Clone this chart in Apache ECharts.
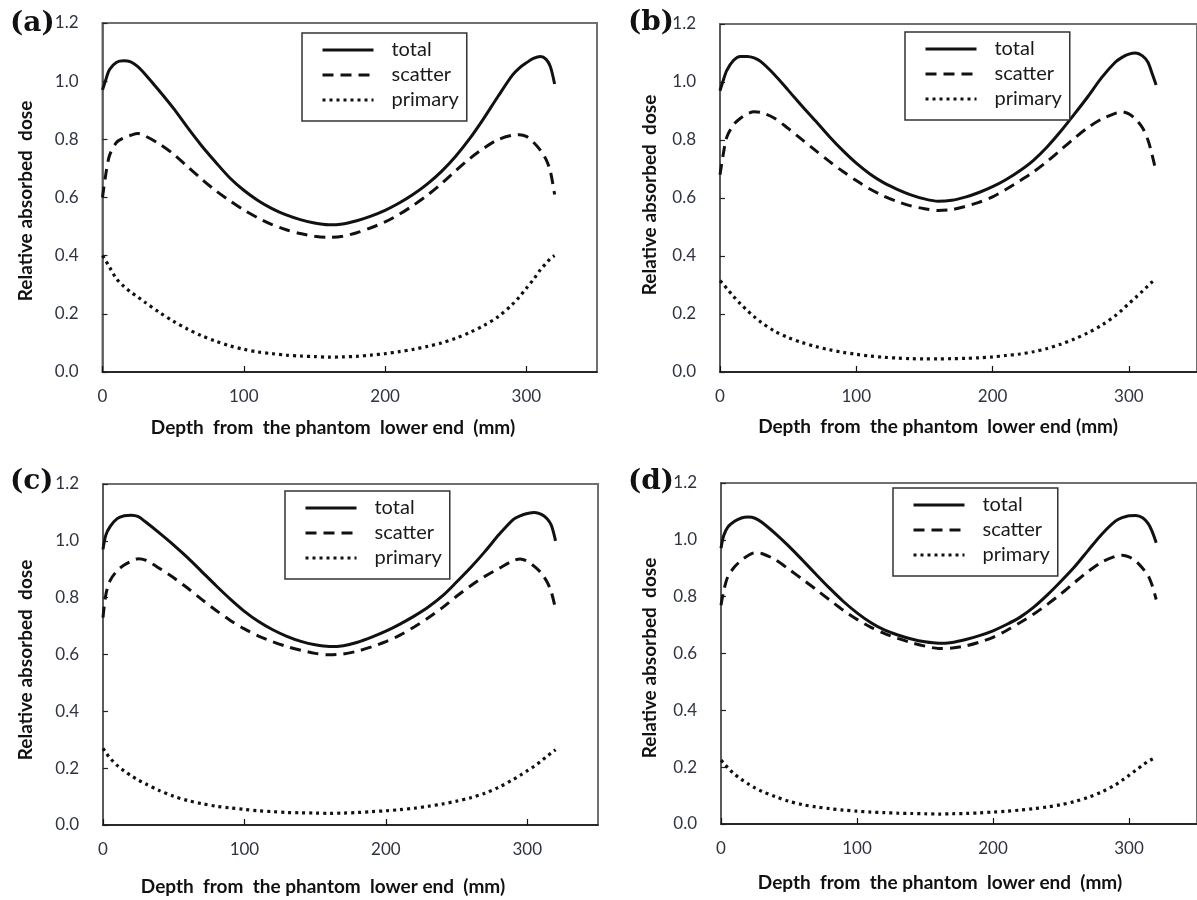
<!DOCTYPE html>
<html>
<head>
<meta charset="utf-8">
<script src="https://cdn.jsdelivr.net/npm/echarts@6/dist/echarts.min.js"></script>
<style>
html,body{margin:0;padding:0;background:#fff;}
#main{width:1197px;height:900px;}
</style>
</head>
<body>
<div id="main"></div>
<script>
// depth (mm) sample positions shared by every curve
var depth = [0,2,5,10,15,20,25,30,40,50,60,70,80,90,100,110,120,130,140,150,160,170,180,190,200,210,220,230,240,250,260,270,280,290,295,300,305,310,314,317,320];

// (a)
var totalA   = [0.97,1.00,1.04,1.065,1.07,1.066,1.05,1.025,0.968,0.908,0.842,0.779,0.722,0.668,0.625,0.59,0.562,0.54,0.524,0.512,0.506,0.509,0.52,0.536,0.556,0.581,0.611,0.647,0.69,0.742,0.803,0.873,0.948,1.02,1.045,1.063,1.078,1.085,1.075,1.05,0.99];
var scatterA = [0.60,0.67,0.745,0.79,0.805,0.814,0.82,0.812,0.785,0.75,0.707,0.664,0.624,0.589,0.557,0.53,0.507,0.489,0.476,0.467,0.463,0.467,0.479,0.496,0.516,0.542,0.573,0.608,0.648,0.692,0.734,0.77,0.799,0.814,0.816,0.81,0.79,0.762,0.73,0.69,0.61];
var primaryA = [0.40,0.385,0.36,0.32,0.295,0.275,0.258,0.24,0.206,0.175,0.148,0.125,0.106,0.09,0.078,0.069,0.063,0.058,0.055,0.053,0.051,0.052,0.054,0.058,0.063,0.07,0.078,0.088,0.1,0.116,0.136,0.16,0.19,0.232,0.258,0.288,0.318,0.352,0.374,0.39,0.40];

// (b)
var totalB   = [0.97,1.00,1.04,1.075,1.088,1.088,1.083,1.07,1.025,0.972,0.918,0.866,0.813,0.764,0.72,0.683,0.653,0.63,0.611,0.597,0.589,0.592,0.603,0.619,0.639,0.664,0.694,0.73,0.776,0.83,0.889,0.95,1.015,1.068,1.085,1.096,1.10,1.09,1.068,1.03,0.99];
var scatterB = [0.68,0.74,0.81,0.853,0.875,0.89,0.897,0.895,0.875,0.84,0.802,0.764,0.727,0.692,0.66,0.631,0.607,0.588,0.573,0.563,0.557,0.56,0.571,0.585,0.604,0.63,0.659,0.69,0.726,0.766,0.806,0.843,0.872,0.892,0.897,0.89,0.872,0.842,0.80,0.75,0.69];
var primaryB = [0.315,0.305,0.288,0.26,0.235,0.212,0.191,0.172,0.141,0.119,0.102,0.088,0.077,0.068,0.061,0.055,0.051,0.048,0.046,0.045,0.045,0.046,0.047,0.049,0.052,0.057,0.062,0.07,0.081,0.096,0.114,0.135,0.161,0.194,0.214,0.236,0.257,0.279,0.297,0.31,0.32];

// (c)
var totalC   = [0.97,1.02,1.05,1.078,1.088,1.09,1.085,1.067,1.027,0.985,0.94,0.891,0.842,0.795,0.752,0.716,0.687,0.664,0.646,0.634,0.628,0.631,0.643,0.661,0.682,0.707,0.735,0.767,0.806,0.855,0.906,0.962,1.022,1.075,1.088,1.096,1.10,1.093,1.078,1.055,1.00];
var scatterC = [0.73,0.81,0.86,0.895,0.915,0.928,0.937,0.932,0.903,0.87,0.833,0.793,0.755,0.72,0.69,0.665,0.645,0.628,0.615,0.604,0.599,0.602,0.612,0.627,0.645,0.668,0.697,0.729,0.765,0.805,0.842,0.875,0.903,0.93,0.936,0.928,0.91,0.886,0.855,0.82,0.76];
var primaryC = [0.27,0.255,0.235,0.21,0.19,0.173,0.158,0.145,0.121,0.101,0.086,0.075,0.066,0.06,0.055,0.05,0.047,0.044,0.043,0.042,0.041,0.042,0.044,0.047,0.05,0.054,0.059,0.066,0.074,0.084,0.096,0.112,0.133,0.16,0.175,0.191,0.207,0.226,0.242,0.254,0.265];

// (d)
var totalD   = [0.97,1.015,1.045,1.065,1.077,1.08,1.076,1.062,1.022,0.977,0.928,0.878,0.829,0.783,0.743,0.709,0.683,0.665,0.651,0.641,0.636,0.639,0.649,0.663,0.68,0.702,0.728,0.763,0.806,0.854,0.905,0.963,1.02,1.066,1.078,1.085,1.086,1.078,1.058,1.03,0.99];
var scatterD = [0.77,0.82,0.87,0.905,0.928,0.945,0.955,0.952,0.93,0.896,0.861,0.825,0.788,0.752,0.72,0.693,0.671,0.653,0.638,0.626,0.618,0.619,0.627,0.64,0.657,0.681,0.709,0.739,0.773,0.81,0.85,0.889,0.922,0.942,0.946,0.94,0.925,0.90,0.875,0.84,0.79];
var primaryD = [0.225,0.215,0.198,0.175,0.157,0.141,0.127,0.115,0.096,0.08,0.068,0.06,0.054,0.049,0.045,0.042,0.04,0.038,0.037,0.036,0.035,0.036,0.037,0.039,0.042,0.045,0.049,0.054,0.06,0.068,0.079,0.094,0.113,0.138,0.154,0.171,0.189,0.207,0.22,0.228,0.235];

var panelTags = ['(a)','(b)','(c)','(d)'];
var seriesNames = ['total','scatter','primary'];
var xTitle = ['Depth  from  the phantom  lower end  (mm)','Depth  from  the phantom  lower end (mm)','Depth  from  the phantom  lower end  (mm)','Depth  from  the phantom  lower end  (mm)'];
var yTitle = 'Relative absorbed  dose';

var panelData = [
    [totalA, scatterA, primaryA],
    [totalB, scatterB, primaryB],
    [totalC, scatterC, primaryC],
    [totalD, scatterD, primaryD]
];

// layout of each panel (pixels)
var grids = [
    {left:102.5, top:23,  width:494.5, height:349},
    {left:720,   top:24,  width:481,   height:348},
    {left:103,   top:484, width:495,   height:341},
    {left:721,   top:483, width:476,   height:341}
];
var legendPos = [[302,33],[905,32],[285,491],[893,488]];
var tagPos = [[10,28],[628,27],[10,486],[628,486]];
var xTitlePos = [[333,428],[938,427],[323,887],[940,883]];
var yTitlePos = [[26,201],[650,195],[26,660],[650,658]];

var lineTypes = ['solid',[11,7],[3,4]];
var lineWidths = [3,3,3.2];
var labelFont = 'Lato, "Open Sans", sans-serif';

function pairs(arr){
    var out = [];
    for (var i = 0; i < depth.length; i++) {
        out.push([depth[i], arr[i]]);
    }
    return out;
}

var option = {
    backgroundColor:'#fff',
    animation:false,
    grid:[], xAxis:[], yAxis:[], series:[], legend:[], graphic:[]
};

for (var p = 0; p < 4; p++) {
    var g = grids[p];
    option.grid.push({
        left:g.left, top:g.top, width:g.width, height:g.height,
        show:true, borderColor:'#707070', borderWidth:2, backgroundColor:'transparent'
    });
    option.xAxis.push({
        type:'value', gridIndex:p, min:0, max:350, interval:100,
        axisLine:{show:true, onZero:false, lineStyle:{color:'#111', width:1.5}},
        axisTick:{show:true, inside:true, length:6, lineStyle:{color:'#111', width:1.2}},
        splitLine:{show:false},
        axisLabel:{show:true, showMaxLabel:false, margin:16, color:'#2f3342', fontSize:17, fontFamily:labelFont}
    });
    option.yAxis.push({
        type:'value', gridIndex:p, min:0, max:1.2, interval:0.2,
        axisLine:{show:true, onZero:false, lineStyle:{color:'#555', width:1.5}},
        axisTick:{show:true, inside:true, length:5, lineStyle:{color:'#222', width:1.2}},
        splitLine:{show:false},
        axisLabel:{show:true, margin:24, color:'#2f3342', fontSize:17, fontFamily:labelFont,
            formatter:function(v){ return v.toFixed(1); }}
    });
    for (var s = 0; s < 3; s++) {
        option.series.push({
            name:seriesNames[s], type:'line',
            xAxisIndex:p, yAxisIndex:p,
            data:pairs(panelData[p][s]),
            smooth:0.3, showSymbol:false, symbol:'none',
            lineStyle:{color:'#111', width:lineWidths[s], type:lineTypes[s]},
            itemStyle:{color:'#111'},
            z:3
        });
    }
    option.legend.push({
        left:legendPos[p][0], top:legendPos[p][1],
        orient:'vertical', selectedMode:false,
        data:seriesNames,
        itemWidth:51, itemHeight:14, itemGap:1,
        itemStyle:{color:'rgba(0,0,0,0)', borderColor:'rgba(0,0,0,0)', borderWidth:0, opacity:0},
        lineStyle:{width:3},
        padding:[5,8,9,19],
        borderColor:'#333', borderWidth:1.5, backgroundColor:'#fff',
        textStyle:{fontSize:20, fontFamily:labelFont, color:'#1a1a1a', lineHeight:24, padding:[0,0,0,13]}
    });
    option.graphic.push({
        type:'text', left:tagPos[p][0], top:tagPos[p][1] - 18,
        style:{text:panelTags[p], font:'bold 28px "DejaVu Serif", serif', fill:'#111'}
    });
    option.graphic.push({
        type:'text', x:xTitlePos[p][0], y:xTitlePos[p][1],
        style:{text:xTitle[p], font:'bold 19px ' + labelFont, fill:'#111', align:'center', verticalAlign:'middle'}
    });
    option.graphic.push({
        type:'text', x:yTitlePos[p][0], y:yTitlePos[p][1], rotation:Math.PI / 2,
        style:{text:yTitle, font:'bold 19px ' + labelFont, fill:'#111', align:'center', verticalAlign:'middle'}
    });
}

var myChart = echarts.init(document.getElementById('main'));
myChart.setOption(option);
</script>
</body>
</html>
